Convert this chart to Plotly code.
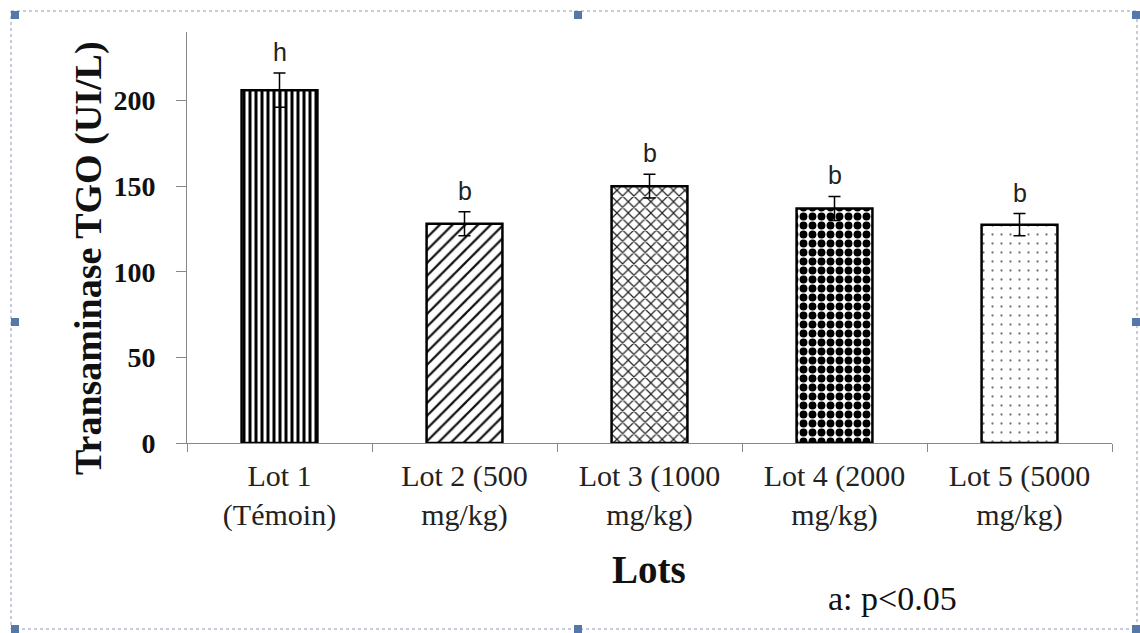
import plotly.graph_objects as go

categories = ["Lot 1<br>(Témoin)", "Lot 2 (500<br>mg/kg)", "Lot 3 (1000<br>mg/kg)",
              "Lot 4 (2000<br>mg/kg)", "Lot 5 (5000<br>mg/kg)"]
values = [206, 128, 150, 137, 127.5]
errors = [10, 7, 7, 7, 6.5]
letters = ["h", "b", "b", "b", "b"]
y_ticks = [0, 50, 100, 150, 200]

W, H = 1140, 633
L, R, T, B = 187, 1112, 32, 443  # plot area in pixels

def px(x):
    return (x - L) / (R - L)

def py(y):
    return (B - y) / (B - T)

fig = go.Figure()
fig.add_trace(go.Bar(
    x=categories, y=values, width=0.41,
    marker=dict(
        color="white",
        line=dict(color="black", width=2.5),
        pattern=dict(
            shape=["|", "/", "x", ".", "."],
            size=[6, 9, 8, 9, 9],
            solidity=[0.5, 0.25, 0.28, 0.6, 0.05],
            fgcolor=["black", "#111", "#222", "black", "#777"],
            fgopacity=1,
            bgcolor="white",
            fillmode="overlay",
        ),
    ),
    error_y=dict(type="data", array=errors, visible=True, color="black",
                 thickness=1.5, width=6),
    showlegend=False,
))

annotations = []
for c, v, e, t in zip(categories, values, errors, letters):
    annotations.append(dict(x=c, y=v + e, xref="x", yref="y", text=t,
                            showarrow=False, yanchor="bottom", yshift=5,
                            font=dict(family="Liberation Sans", size=25, color="#222")))

annotations.append(dict(x=px(88), y=py(258), xref="paper", yref="paper",
                        text="<b>Transaminase TGO (UI/L)</b>", textangle=-90,
                        showarrow=False, xanchor="center", yanchor="middle",
                        font=dict(family="Liberation Serif", size=38, color="#111")))
annotations.append(dict(x=px(649), y=py(569), xref="paper", yref="paper", text="<b>Lots</b>",
                        showarrow=False, xanchor="center", yanchor="middle",
                        font=dict(family="Liberation Serif", size=39, color="#111")))
annotations.append(dict(x=px(892), y=py(598), xref="paper", yref="paper", text="a: p&lt;0.05",
                        showarrow=False, xanchor="center", yanchor="middle",
                        font=dict(family="Liberation Serif", size=34, color="#111")))

shapes = []
# dashed selection frame
shapes.append(dict(type="rect", xref="paper", yref="paper",
                   x0=px(11), x1=px(1137), y0=py(11), y1=py(629),
                   line=dict(color="#8a9ab5", width=1, dash="dot")))
handles = [(15, 15), (578, 15), (1136, 15), (15, 322), (1136, 322), (15, 629), (578, 629), (1136, 629)]
for hx, hy in handles:
    shapes.append(dict(type="rect", xref="paper", yref="paper",
                       x0=px(hx - 4), x1=px(hx + 4), y0=py(hy - 4), y1=py(hy + 4),
                       line=dict(color="#4a6fa5", width=0), fillcolor="#5577aa"))

fig.update_layout(
    width=W, height=H, autosize=False,
    margin=dict(l=L, r=W - R, t=T, b=H - B),
    plot_bgcolor="white", paper_bgcolor="white",
    annotations=annotations, shapes=shapes,
    xaxis=dict(range=[-0.5, 4.5], showline=True, linecolor="#888", linewidth=1,
               ticks="outside", tickson="boundaries", ticklen=8, tickcolor="#888",
               showgrid=False, zeroline=False, ticklabelstandoff=6,
               tickfont=dict(family="Liberation Serif", size=30, color="#222")),
    yaxis=dict(range=[0, 240], tickvals=y_ticks, showline=True, linecolor="#888", linewidth=1,
               ticks="outside", ticklen=10, tickcolor="#888", showgrid=False, zeroline=False,
               ticklabelstandoff=15,
               tickfont=dict(family="Liberation Serif", size=28, color="#111", weight="bold")),
)

fig.write_html("out.html", config={"displayModeBar": False},
               post_script="document.body.style.margin='0';document.body.style.overflow='hidden';")
